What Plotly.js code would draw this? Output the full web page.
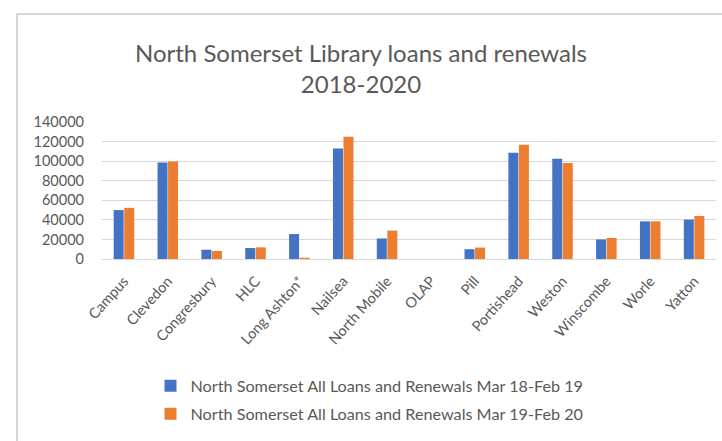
<!DOCTYPE html>
<html>
<head>
<meta charset="utf-8">
<script src="https://cdn.plot.ly/plotly-3.0.1.min.js"></script>
<style>
  html, body { margin: 0; padding: 0; background: #fff; overflow: hidden; width: 722px; height: 441px; }
  #frame { position: absolute; left: 16px; top: 13px; width: 700px; height: 428px;
           border-left: 2px solid #d6d6d6; border-top: 2px solid #d6d6d6; box-sizing: border-box; }
  #frametop { position: absolute; left: 16px; top: 13px; width: 706px; height: 2px; background: #d6d6d6; }
  #chart { position: absolute; left: 0; top: 0; width: 722px; height: 441px; overflow: hidden; }
</style>
</head>
<body>
<div id="frame"></div>
<div id="frametop"></div>
<div id="chart"></div>
<script>
const categories = ["Campus", "Clevedon", "Congresbury", "HLC", "Long Ashton*", "Nailsea",
  "North Mobile", "OLAP", "Pill", "Portishead", "Weston", "Winscombe", "Worle", "Yatton"];
const seriesNames = ["North Somerset All Loans and Renewals Mar 18-Feb 19",
  "North Somerset All Loans and Renewals Mar 19-Feb 20"];
const loans1819 = [50000, 98700, 9500, 11200, 25500, 113000, 21000, 0, 10000, 108500, 102500, 20000, 38500, 40300];
const loans1920 = [52300, 99700, 8200, 11900, 1300, 124800, 29000, 0, 11700, 116700, 98000, 21500, 38500, 44000];
const yTicks = [0, 20000, 40000, 60000, 80000, 100000, 120000, 140000];

const font = "Lato, 'Open Sans', sans-serif";
const traces = [
  { type: "bar", name: seriesNames[0], x: categories, y: loans1819,
    marker: { color: "#4472C4" }, legendgroup: "a" },
  { type: "bar", name: seriesNames[1], x: categories, y: loans1920,
    marker: { color: "#ED7D31" }, legendgroup: "b" }
];
const layout = {
  width: 722, height: 441,
  paper_bgcolor: "rgba(0,0,0,0)", plot_bgcolor: "rgba(0,0,0,0)",
  margin: { l: 102, r: 6, t: 122, b: 182 },
  font: { family: font, color: "#595959" },
  title: { text: "North Somerset Library loans and renewals<br>2018-2020",
    font: { family: font, size: 24, color: "#595959" },
    x: 0.5, xref: "container", xanchor: "center", y: 0.86, yref: "container", yanchor: "middle" },
  barmode: "group", bargap: 0.52, bargroupgap: 0.05,
  xaxis: { type: "category", tickangle: -48, tickfont: { size: 14.5, color: "#595959" },
    showgrid: false, showline: true, linecolor: "#d9d9d9", linewidth: 1, ticks: "",
    ticklabelstandoff: 7, automargin: false },
  yaxis: { range: [0, 140000], tickvals: yTicks, ticktext: yTicks.map(String),
    tickfont: { size: 14.5, color: "#595959" }, showgrid: true, gridcolor: "#d9d9d9",
    zeroline: false, ticks: "", ticklen: 0, ticklabelstandoff: 17, automargin: false, fixedrange: true },
  showlegend: true,
  legend: { orientation: "v", x: 0.079, xanchor: "left", y: -0.80, yanchor: "top",
    traceorder: "grouped", tracegroupgap: 4, font: { size: 16.2, color: "#595959" },
    itemwidth: 30 }
};
Plotly.newPlot("chart", traces, layout, { staticPlot: true, displayModeBar: false, responsive: false });
</script>
</body>
</html>
